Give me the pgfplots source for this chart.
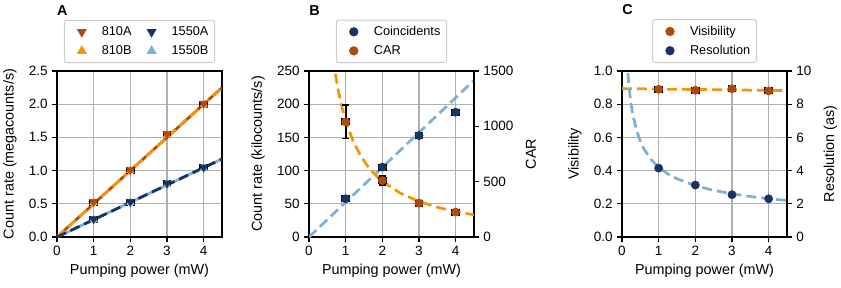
\documentclass[border=0pt]{standalone}
\usepackage{fontspec}
\setmainfont{Liberation Sans}
\usepackage{pgfplots}
\pgfplotsset{compat=1.18}
\definecolor{cbrown}{RGB}{178,72,14}
\definecolor{corange}{RGB}{245,150,10}
\definecolor{cnavy}{RGB}{22,52,102}
\definecolor{clblue}{RGB}{125,176,212}
\definecolor{cgrid}{RGB}{176,176,176}
\definecolor{clegend}{RGB}{204,204,204}
\newcommand\lblfont{\fontsize{11.5}{13}\selectfont}
\newcommand\tckfont{\fontsize{10.8}{12}\selectfont}
\newcommand\lgdfont{\fontsize{10.2}{12}\selectfont}
\pgfplotsset{
 lgd/.style={legend style={at={(0.5,1.048)}, anchor=south, draw=clegend, line width=0.8pt,
    rounded corners=2pt, fill=white, inner xsep=3pt, inner ysep=3pt, row sep=2.5pt,
    font=\lgdfont, cells={anchor=west}}},
 lgimg/.style={legend image code/.code={\pgfpathmoveto{\pgfpoint{0pt}{-1pt}}\pgfpathlineto{\pgfpoint{25pt}{1pt}}\pgfusepath{discard}\draw[##1] plot coordinates {(11pt,0pt)};}},
 base/.style={
  width=132pt,height=132.8pt, scale only axis,
  label style={font=\lblfont}, tick label style={font=\tckfont},
  /pgf/number format/assume math mode=true,
  /pgf/number format/1000 sep={},
  xmin=0,xmax=4.5, xtick={0,1,2,3,4},
  tick align=outside, major tick length=4pt,
  tick pos=left,
  axis line style={line width=0.9pt},
  every tick/.style={black, line width=0.9pt},
  xmajorgrids, ymajorgrids, major grid style={cgrid, line width=0.9pt},
  xlabel={Pumping power (mW)}, lgd, ylabel shift=3pt,
 },
 twin/.style={
  width=132pt,height=132.8pt, scale only axis,
  label style={font=\lblfont}, tick label style={font=\tckfont},
  /pgf/number format/assume math mode=true,
  /pgf/number format/1000 sep={},
  xmin=0,xmax=4.5, axis x line=none, axis y line*=right,
  tick align=outside, major tick length=4pt, ytick pos=right,
  axis line style={line width=0.9pt},
  every tick/.style={black, line width=0.9pt}, lgd, ylabel shift=3pt,
 },
 ebar/.style={only marks, no marks,
   /pgfplots/error bars/x dir=both, /pgfplots/error bars/x explicit,
   /pgfplots/error bars/y dir=both, /pgfplots/error bars/y explicit,
   /pgfplots/error bars/error bar style={black, line width=1.6pt},
   /pgfplots/error bars/error mark options={black, rotate=90, mark size=2.8pt, line width=1.5pt}},
 dashfit/.style={line width=2.2pt, dash pattern=on 8pt off 4pt, no marks},
 tri/.style={only marks, mark=triangle*, mark size=3.8pt, mark options={fill=#1, draw=#1}, lgimg},
 trid/.style={only marks, mark=triangle*, mark size=3.8pt, mark options={rotate=180, fill=#1, draw=#1}, lgimg},
 dot/.style={only marks, mark=*, mark size=3.3pt, mark options={fill=#1, draw=#1}, lgimg},
}
\begin{document}
\begin{tikzpicture}
% ---------------- Panel A
\begin{axis}[base, name=axA, at={(0,0)}, anchor=south west,
  ymin=0, ymax=2.5, ytick={0,0.5,1,1.5,2,2.5},
  yticklabel style={/pgf/number format/.cd, fixed, fixed zerofill, precision=1},
  ylabel={Count rate (megacounts/s)},
  legend columns=2,
  legend style={/tikz/every even column/.append style={column sep=3pt}}]
\addlegendimage{trid=cbrown}\addlegendentry{810A}
\addlegendimage{trid=cnavy}\addlegendentry{1550A}
\addlegendimage{tri=corange}\addlegendentry{810B}
\addlegendimage{tri=clblue}\addlegendentry{1550B}
% fits
\addplot[cbrown, line width=2.2pt, no marks, forget plot] coordinates {(0,0) (4.5,2.25)};
\addplot[corange, dashfit, forget plot] coordinates {(0,0) (4.5,2.25)};
\addplot[clblue, line width=2.2pt, no marks, forget plot] coordinates {(0,0) (4.5,1.175)};
\addplot[cnavy, dashfit, forget plot] coordinates {(0,0) (4.5,1.175)};
% error bars
\addplot[forget plot, ebar]
 coordinates {(1,0.525) +- (0.09,0.01) (2,1.005) +- (0.09,0.01) (3,1.54) +- (0.09,0.01) (4,2.00) +- (0.09,0.01)};
\addplot[forget plot, ebar]
 coordinates {(1,0.265) +- (0.09,0.01) (2,0.525) +- (0.09,0.01) (3,0.80) +- (0.09,0.01) (4,1.04) +- (0.09,0.01)};
% data
\addplot[forget plot, tri=corange] coordinates {(1,0.52) (2,1.00) (3,1.53) (4,1.99)};
\addplot[forget plot, trid=cbrown] coordinates {(1,0.53) (2,1.01) (3,1.55) (4,2.01)};
\addplot[forget plot, tri=clblue] coordinates {(1,0.26) (2,0.52) (3,0.79) (4,1.03)};
\addplot[forget plot, trid=cnavy] coordinates {(1,0.27) (2,0.53) (3,0.81) (4,1.05)};
\end{axis}
% ---------------- Panel B
\begin{axis}[base, name=axB, at={(201.6pt,0)}, anchor=south west,
  ymin=0, ymax=250, ytick={0,50,100,150,200,250},
  ylabel={Count rate (kilocounts/s)}]
\addplot[clblue, dashfit] coordinates {(0,0) (4.5,236)};
\addplot[ebar] coordinates {(1,57.6) +- (0.09,0.5) (2,105.2) +- (0.09,0.5) (3,152.8) +- (0.09,0.5) (4,187.9) +- (0.09,0.5)};
\addplot[dot=cnavy] coordinates {(1,57.6) (2,105.2) (3,152.8) (4,187.9)};
\end{axis}
\begin{axis}[twin, at={(201.6pt,0)}, anchor=south west,
  ymin=0, ymax=1500, ytick={0,500,1000,1500}, ylabel={CAR}]
\addlegendimage{dot=cnavy}\addlegendentry{Coincidents}
\addlegendimage{dot=cbrown}\addlegendentry{CAR}
\addplot[corange, dashfit, forget plot] coordinates {
 (0.72,1475) (0.8,1323) (0.9,1171) (1.0,1050) (1.2,868) (1.4,738) (1.6,640) (1.8,564)
 (2.0,503) (2.5,394) (3.0,321) (3.5,269) (4.0,230) (4.5,200)};
\addplot[ebar, forget plot] coordinates {(1,1040) +- (0.09,150) (2,510) +- (0.09,42) (3,307) +- (0.09,8) (4,225) +- (0.09,8)};
\addplot[dot=cbrown, forget plot] coordinates {(1,1040) (2,510) (3,307) (4,225)};
\end{axis}
% ---------------- Panel C
\begin{axis}[base, name=axC, at={(452pt,0)}, anchor=south west,
  ymin=0, ymax=1, ytick={0,0.2,0.4,0.6,0.8,1.0},
  yticklabel style={/pgf/number format/.cd, fixed, fixed zerofill, precision=1},
  ylabel={Visibility}]
\addplot[corange, dashfit] coordinates {(0,0.894) (4.5,0.882)};
\addplot[ebar] coordinates {(1,0.890) +- (0.09,0.004) (2,0.884) +- (0.09,0.004) (3,0.893) +- (0.09,0.004) (4,0.880) +- (0.09,0.004)};
\addplot[dot=cbrown] coordinates {(1,0.890) (2,0.884) (3,0.893) (4,0.880)};
\end{axis}
\begin{axis}[twin, at={(452pt,0)}, anchor=south west,
  ymin=0, ymax=10, ytick={0,2,4,6,8,10}, ylabel={Resolution (as)}]
\addlegendimage{dot=cbrown}\addlegendentry{Visibility}
\addlegendimage{dot=cnavy}\addlegendentry{Resolution}
\addplot[clblue, dashfit, forget plot] coordinates {
 (0.16,9.87) (0.2,8.87) (0.25,7.98) (0.3,7.32) (0.4,6.40) (0.5,5.77) (0.6,5.30) (0.8,4.65)
 (1.0,4.20) (1.25,3.80) (1.5,3.51) (2.0,3.09) (2.5,2.81) (3.0,2.60) (3.5,2.44) (4.0,2.31) (4.5,2.20)};
\addplot[dot=cnavy, forget plot] coordinates {(1,4.15) (2,3.13) (3,2.55) (4,2.30)};
\end{axis}
\foreach \a/\t in {axA/A, axB/B, axC/C}
  \node[anchor=base west, font=\fontsize{11.5}{13}\selectfont\bfseries, inner sep=0pt] at ([yshift=44.8pt]\a.north west) {\t};
\pgfresetboundingbox
\path[use as bounding box] (-45.6pt,-40.8pt) rectangle (627.2pt,189.6pt);
\end{tikzpicture}
\end{document}
